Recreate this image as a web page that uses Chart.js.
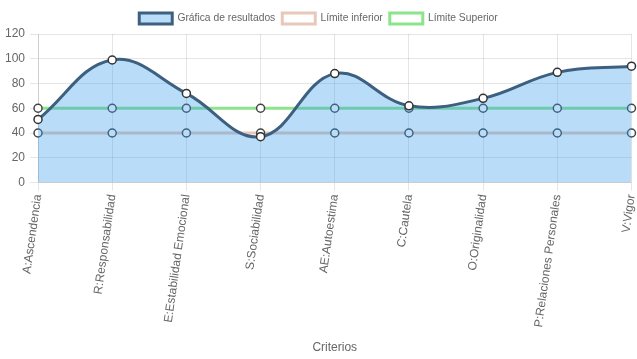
<!DOCTYPE html>
<html>
<head>
<meta charset="utf-8">
<script src="https://cdn.jsdelivr.net/npm/chart.js@4/dist/chart.umd.min.js"></script>
<style>
html,body{margin:0;padding:0;background:#fff;}
#wrap{width:637px;height:359px;}
</style>
</head>
<body>
<div id="wrap"><canvas id="c" width="637" height="359"></canvas></div>
<script>
const categories = ["A:Ascendencia","R:Responsabilidad","E:Estabilidad Emocional","S:Sociabilidad","AE:Autoestima","C:Cautela","O:Originalidad","P:Relaciones Personales","V:Vigor"];
const resultados = [51, 99, 72, 37, 88, 62, 68, 89, 94];
const limiteInferior = [40, 40, 40, 40, 40, 40, 40, 40, 40];
const limiteSuperior = [60, 60, 60, 60, 60, 60, 60, 60, 60];
const yTicks = [0, 20, 40, 60, 80, 100, 120];

Chart.defaults.font.family = "'Liberation Sans', Arial, sans-serif";
Chart.defaults.font.size = 12;
Chart.defaults.color = '#666';

new Chart(document.getElementById('c'), {
  type: 'line',
  data: {
    labels: categories,
    datasets: [
      {
        label: 'Gráfica de resultados',
        data: resultados,
        borderColor: 'rgba(62,96,128,1)',
        backgroundColor: 'rgba(54,155,235,0.35)',
        borderWidth: 3,
        fill: 'origin',
        tension: 0.4,
        pointRadius: 4,
        pointBackgroundColor: '#fff',
        pointBorderColor: '#333',
        pointBorderWidth: 1.5
      },
      {
        label: 'Límite inferior',
        data: limiteInferior,
        borderColor: 'rgba(232,200,185,1)',
        backgroundColor: '#fff',
        borderWidth: 3,
        fill: false,
        tension: 0.4,
        pointRadius: 4,
        pointBackgroundColor: '#fff',
        pointBorderColor: '#444',
        pointBorderWidth: 1.5
      },
      {
        label: 'Límite Superior',
        data: limiteSuperior,
        borderColor: 'rgba(140,228,140,1)',
        backgroundColor: '#fff',
        borderWidth: 3,
        fill: false,
        tension: 0.4,
        pointRadius: 4,
        pointBackgroundColor: '#fff',
        pointBorderColor: '#444',
        pointBorderWidth: 1.5
      }
    ]
  },
  options: {
    responsive: false,
    animation: false,
    layout: { padding: { top: 6 } },
    plugins: {
      legend: {
        display: true,
        position: 'top',
        labels: { boxWidth: 33, boxHeight: 11, padding: 7, color: '#666', font: { size: 10.3 } }
      },
      tooltip: { enabled: false }
    },
    scales: {
      x: {
        grid: { color: 'rgba(0,0,0,0.1)' },
        ticks: { autoSkip: false, maxRotation: 82, minRotation: 82 },
        title: { display: true, text: 'Criterios', color: '#666', padding: { top: 11, bottom: 4 } },
        afterFit: (s) => { s.paddingRight = 5; }
      },
      y: {
        min: 0,
        max: 120,
        grid: { color: 'rgba(0,0,0,0.1)' },
        afterBuildTicks: (s) => { s.ticks = yTicks.map(v => ({ value: v })); },
        ticks: { stepSize: 20, padding: 5 }
      }
    }
  }
});
</script>
</body>
</html>
